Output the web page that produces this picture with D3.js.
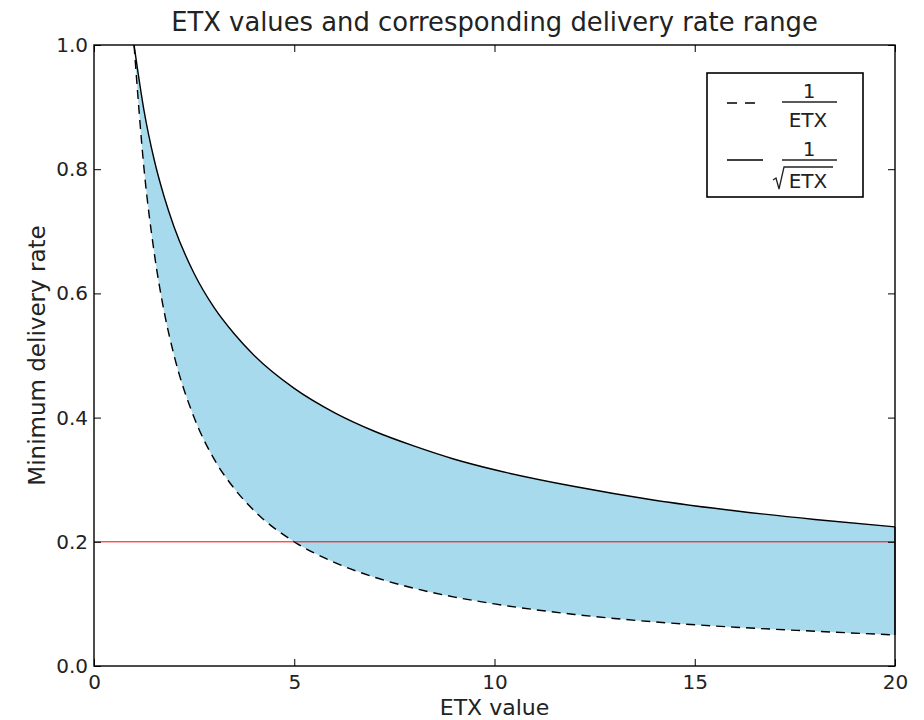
<!DOCTYPE html>
<html>
<head>
<meta charset="utf-8">
<script src="https://cdn.jsdelivr.net/npm/d3@7"></script>
<style>
  body { margin: 0; background: #fff; }
  text { font-family: "DejaVu Sans", sans-serif; fill: #222; }
</style>
</head>
<body>
<svg id="misvg"></svg>
<script>
// values
const etx        = [1, 1.25, 1.5, 1.75, 2, 2.5, 3, 3.5, 4, 5, 6, 7, 8, 9, 10, 12, 14, 16, 18, 20];
const invEtx     = [1.0, 0.80, 0.667, 0.571, 0.50, 0.40, 0.333, 0.286, 0.25, 0.20, 0.167, 0.143, 0.125, 0.111, 0.10, 0.083, 0.071, 0.0625, 0.056, 0.05];
const invSqrtEtx = [1.0, 0.894, 0.816, 0.756, 0.707, 0.632, 0.577, 0.535, 0.50, 0.447, 0.408, 0.378, 0.354, 0.333, 0.316, 0.289, 0.267, 0.25, 0.236, 0.224];
const threshold  = 0.2;
const xTicks = [0, 5, 10, 15, 20];
const yTicks = [0.0, 0.2, 0.4, 0.6, 0.8, 1.0];

const data = etx.map((e, i) => ({ e: e, lo: invEtx[i], hi: invSqrtEtx[i] }));

const margin = { top: 45, right: 29, bottom: 54, left: 94 };
const W = 924, H = 720;
const width = W - margin.left - margin.right;
const height = H - margin.top - margin.bottom;

const root = d3.select("#misvg").attr("width", W).attr("height", H);
const svg = root.append("g")
  .attr("transform", "translate(" + margin.left + "," + margin.top + ")");

const x = d3.scaleLinear().domain([0, 20]).range([0, width]);
const y = d3.scaleLinear().domain([0, 1]).range([height, 0]);

// band between the two curves
svg.append("path")
  .datum(data)
  .attr("fill", "#a8daee")
  .attr("d", d3.area()
    .curve(d3.curveMonotoneX)
    .x(d => x(d.e))
    .y0(d => y(d.lo))
    .y1(d => y(d.hi)));

svg.append("line")
  .attr("x1", x(20)).attr("x2", x(20))
  .attr("y1", y(invEtx[invEtx.length - 1])).attr("y2", y(invSqrtEtx[invSqrtEtx.length - 1]))
  .attr("stroke", "#000").attr("stroke-width", 1.2);

svg.append("path")
  .datum(data)
  .attr("fill", "none")
  .attr("stroke", "#000")
  .attr("stroke-width", 1.4)
  .attr("d", d3.line().curve(d3.curveMonotoneX).x(d => x(d.e)).y(d => y(d.hi)));

svg.append("path")
  .datum(data)
  .attr("fill", "none")
  .attr("stroke", "#000")
  .attr("stroke-width", 1.4)
  .attr("stroke-dasharray", "9,6")
  .attr("d", d3.line().curve(d3.curveMonotoneX).x(d => x(d.e)).y(d => y(d.lo)));

// threshold line
svg.append("line")
  .attr("x1", x(0)).attr("x2", x(20))
  .attr("y1", y(threshold)).attr("y2", y(threshold))
  .attr("stroke", "#ff0000").attr("stroke-width", 1);

// axes, ticks pointing inwards like matplotlib
const tk = 7;
svg.append("g")
  .attr("transform", "translate(0," + height + ")")
  .call(d3.axisBottom(x).tickValues(xTicks).tickSizeInner(-tk).tickSizeOuter(0).tickPadding(9))
  .call(g => g.select(".domain").remove())
  .selectAll("text").style("font-size", "20px").attr("fill", "#222");
svg.append("g")
  .call(d3.axisTop(x).tickValues(xTicks).tickSizeInner(-tk).tickSizeOuter(0).tickFormat(""))
  .call(g => g.select(".domain").remove());
svg.append("g")
  .call(d3.axisLeft(y).tickValues(yTicks).tickFormat(d3.format(".1f")).tickSizeInner(-tk).tickSizeOuter(0).tickPadding(6))
  .call(g => g.select(".domain").remove())
  .selectAll("text").style("font-size", "20px").attr("fill", "#222");
svg.append("g")
  .attr("transform", "translate(" + width + ",0)")
  .call(d3.axisRight(y).tickValues(yTicks).tickSizeInner(-tk).tickSizeOuter(0).tickFormat(""))
  .call(g => g.select(".domain").remove());
svg.selectAll(".tick line").attr("stroke", "#000");

svg.append("rect")
  .attr("width", width).attr("height", height)
  .attr("fill", "none").attr("stroke", "#000").attr("stroke-width", 1.4);

// titles
root.append("text")
  .attr("x", margin.left + width / 2).attr("y", 31)
  .attr("text-anchor", "middle").style("font-size", "25.8px")
  .text("ETX values and corresponding delivery rate range");
root.append("text")
  .attr("x", margin.left + width / 2).attr("y", 715)
  .attr("text-anchor", "middle").style("font-size", "22px")
  .text("ETX value");
root.append("text")
  .attr("transform", "translate(45," + (margin.top + height / 2) + ") rotate(-90)")
  .attr("text-anchor", "middle").style("font-size", "23px")
  .text("Minimum delivery rate");

// legend
const leg = svg.append("g").attr("transform", "translate(" + (707 - margin.left) + "," + (73 - margin.top) + ")");
leg.append("rect")
  .attr("width", 156).attr("height", 124)
  .attr("fill", "#fff").attr("stroke", "#000").attr("stroke-width", 1.6);

function fraction(g, cy, sqrt) {
  g.append("text").attr("x", 102).attr("y", cy - 4)
    .attr("text-anchor", "middle").style("font-size", "20px").text("1");
  g.append("line").attr("x1", 75).attr("x2", 130).attr("y1", cy).attr("y2", cy)
    .attr("stroke", "#222").attr("stroke-width", 1.3);
  if (sqrt) {
    g.append("text").attr("x", 101).attr("y", cy + 28)
      .attr("text-anchor", "middle").style("font-size", "20px").text("ETX");
    g.append("path")
      .attr("d", "M 66 " + (cy + 20) + " L 69 " + (cy + 18) + " L 72 " + (cy + 29) + " L 77 " + (cy + 7) + " L 126 " + (cy + 7))
      .attr("fill", "none").attr("stroke", "#222").attr("stroke-width", 1.3);
  } else {
    g.append("text").attr("x", 101).attr("y", cy + 25)
      .attr("text-anchor", "middle").style("font-size", "20px").text("ETX");
  }
}

leg.append("line").attr("x1", 20).attr("x2", 54).attr("y1", 30).attr("y2", 30)
  .attr("stroke", "#000").attr("stroke-width", 1.4).attr("stroke-dasharray", "10,8");
fraction(leg, 29, false);
leg.append("line").attr("x1", 20).attr("x2", 56).attr("y1", 87).attr("y2", 87)
  .attr("stroke", "#000").attr("stroke-width", 1.4);
fraction(leg, 87, true);
</script>
</body>
</html>
